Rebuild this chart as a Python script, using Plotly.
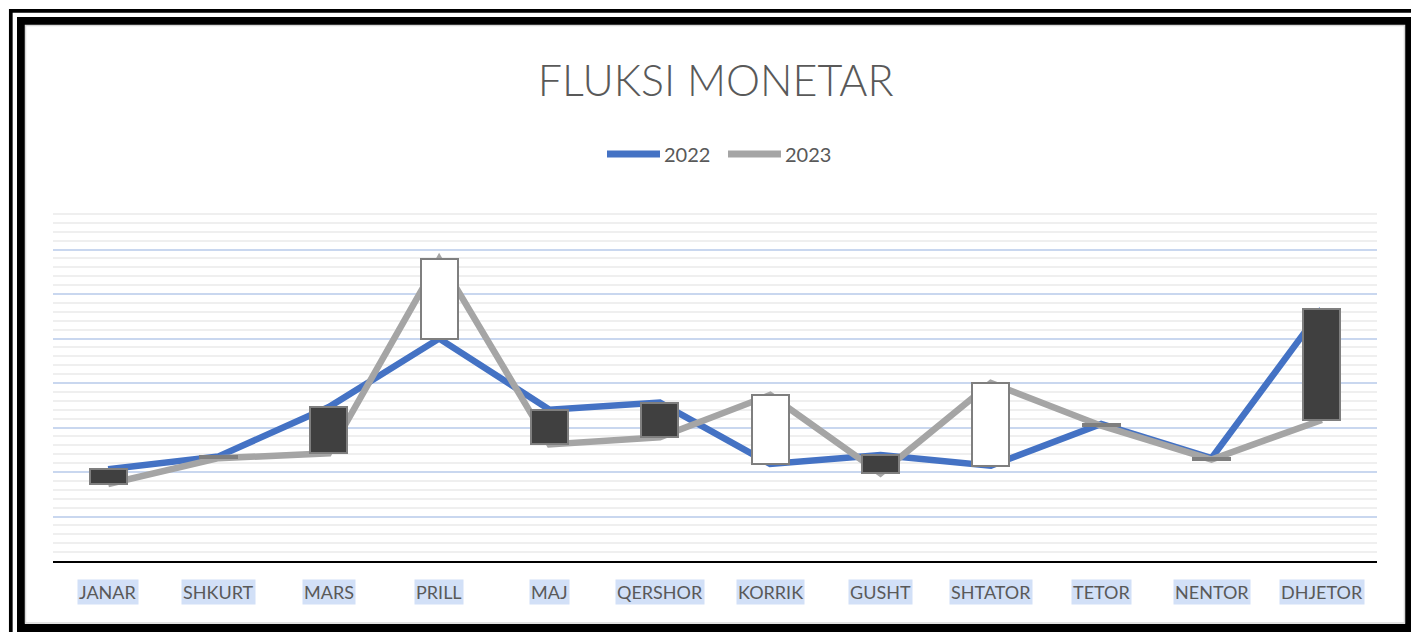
import plotly.graph_objects as go

# Month labels and the two yearly series (arbitrary units)
months = ['JANAR', 'SHKURT', 'MARS', 'PRILL', 'MAJ', 'QERSHOR',
          'KORRIK', 'GUSHT', 'SHTATOR', 'TETOR', 'NENTOR', 'DHJETOR']
v2022 = [10.3, 11.75, 17.3, 25.0, 17.0, 17.8, 10.9, 11.9, 10.7, 15.4, 11.55, 28.3]
v2023 = [8.65, 11.55, 12.1, 33.9, 13.1, 13.9, 18.65, 9.85, 20.0, 15.2, 11.4, 15.85]

W, H = 1411, 632
ML, MR, MT, MB = 53, 34, 205, 71
PW, PH = W - ML - MR, H - MT - MB


def px(x):
    return (x - ML) / PW


def py(y):
    return (H - MB - y) / PH


fig = go.Figure()

# the two lines
fig.add_trace(go.Scatter(x=months, y=v2022, mode='lines', name='2022',
                         line=dict(color='#4472C4', width=6.5)))
fig.add_trace(go.Scatter(x=months, y=v2023, mode='lines', name='2023',
                         line=dict(color='#A5A5A5', width=6.5)))

# up/down bars between the two series, on an overlaid axis so they sit on top
base = [min(a, b) for a, b in zip(v2022, v2023)]
size = [abs(b - a) for a, b in zip(v2022, v2023)]
colors = ['#FFFFFF' if b > a else '#404040' for a, b in zip(v2022, v2023)]
fig.add_trace(go.Bar(x=months, y=size, base=base, width=0.335, yaxis='y2',
                     marker=dict(color=colors, line=dict(color='#7F7F7F', width=2)),
                     showlegend=False))

shapes = [
    # outer double frame
    dict(type='rect', xref='paper', yref='paper', x0=px(10.8), x1=px(1420),
         y0=py(640), y1=py(10.8), line=dict(color='black', width=3.7)),
    dict(type='rect', xref='paper', yref='paper', x0=px(21), x1=px(1409),
         y0=py(628), y1=py(21), line=dict(color='black', width=8)),
    dict(type='rect', xref='paper', yref='paper', x0=px(25.5), x1=px(1404.5),
         y0=py(623), y1=py(25.5), line=dict(color='#D9D9D9', width=1.5)),
    # custom legend lines
    dict(type='line', xref='paper', yref='paper', x0=px(607), x1=px(660),
         y0=py(154), y1=py(154), line=dict(color='#4472C4', width=7)),
    dict(type='line', xref='paper', yref='paper', x0=px(728), x1=px(781),
         y0=py(154), y1=py(154), line=dict(color='#A5A5A5', width=7)),
]

annotations = [
    dict(text='2022', xref='paper', yref='paper', x=px(662), y=py(154),
         xanchor='left', yanchor='middle', showarrow=False,
         font=dict(family='Lato', size=20, color='#595959')),
    dict(text='2023', xref='paper', yref='paper', x=px(783), y=py(154),
         xanchor='left', yanchor='middle', showarrow=False,
         font=dict(family='Lato', size=20, color='#595959')),
]
# month labels with the light highlight behind them
for m in months:
    annotations.append(dict(text=m, x=m, xref='x', yref='paper', y=py(592),
                            yanchor='middle', showarrow=False, bgcolor='#D2E0F7',
                            borderpad=1,
                            font=dict(family='Lato', size=18, color='#595959')))

fig.update_layout(
    width=W, height=H,
    margin=dict(l=ML, r=MR, t=MT, b=MB),
    paper_bgcolor='white', plot_bgcolor='white',
    title=dict(text='FLUKSI MONETAR', x=px(715.7), xref='paper', xanchor='center',
               y=1 - 81 / H, yanchor='middle',
               font=dict(family='Lato', size=43, color='#595959', weight=300)),
    showlegend=False,
    shapes=shapes,
    annotations=annotations,
    bargap=0,
    xaxis=dict(type='category', range=[-0.5, 11.5], showticklabels=False,
               showgrid=False, showline=True, linecolor='black', linewidth=2,
               ticks='', zeroline=False),
    yaxis=dict(range=[0, 40], dtick=5, showticklabels=False, showgrid=True,
               gridcolor='#C9D7EF', gridwidth=1.5, zeroline=False, ticks='',
               minor=dict(dtick=1, showgrid=True, gridcolor='#EFEFEF', gridwidth=2)),
    yaxis2=dict(overlaying='y', range=[0, 40], visible=False),
)

fig.write_html('out.html', config={'displayModeBar': False},
               post_script="document.body.style.margin='0';")
